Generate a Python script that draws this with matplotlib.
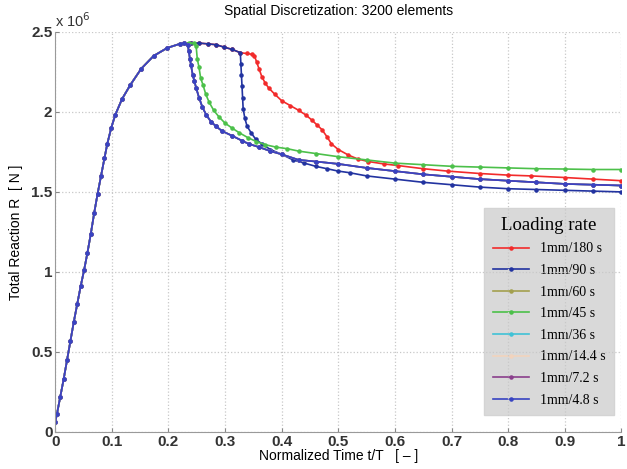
#Total reaction vs normalized time for several loading rates

import numpy as np
import matplotlib.pyplot as plt

#Shared loading branch (all rates)
rise_t = [0, 0.003, 0.009, 0.015, 0.021, 0.027, 0.033, 0.039, 0.045, 0.051, 0.057, 0.063,
          0.069, 0.075, 0.081, 0.087, 0.092, 0.099, 0.106, 0.118, 0.133, 0.152, 0.174, 0.198, 0.22]
rise_R = [0.06, 0.11, 0.22, 0.33, 0.45, 0.57, 0.69, 0.80, 0.91, 1.01, 1.12, 1.24,
          1.37, 1.49, 1.60, 1.71, 1.80, 1.90, 1.98, 2.08, 2.17, 2.27, 2.35, 2.40, 2.425]

#Fast rates (60, 36, 14.4, 7.2, 4.8 s) - early softening
fast_t = [0.228, 0.234, 0.236, 0.238, 0.240, 0.243, 0.246, 0.249, 0.254, 0.26, 0.267, 0.275,
          0.284, 0.295, 0.313, 0.33, 0.342, 0.36, 0.38, 0.40, 0.43, 0.46, 0.5, 0.55, 0.6,
          0.65, 0.7, 0.75, 0.8, 0.85, 0.9, 0.95, 1.0]
fast_R = [2.43, 2.42, 2.38, 2.33, 2.29, 2.23, 2.19, 2.15, 2.09, 2.03, 1.98, 1.94,
          1.91, 1.88, 1.85, 1.82, 1.80, 1.78, 1.755, 1.735, 1.70, 1.69, 1.675, 1.65, 1.63,
          1.61, 1.595, 1.58, 1.57, 1.56, 1.55, 1.545, 1.54]

#1mm/45 s
r45_t = [0.228, 0.236, 0.245, 0.249, 0.251, 0.254, 0.257, 0.261, 0.266, 0.272, 0.28, 0.289,
         0.30, 0.312, 0.325, 0.34, 0.355, 0.371, 0.39, 0.41, 0.43, 0.46, 0.5, 0.55, 0.6,
         0.65, 0.7, 0.75, 0.8, 0.85, 0.9, 0.95, 1.0]
r45_R = [2.43, 2.43, 2.43, 2.41, 2.33, 2.28, 2.21, 2.17, 2.11, 2.06, 2.01, 1.97,
         1.93, 1.90, 1.87, 1.84, 1.815, 1.795, 1.78, 1.77, 1.755, 1.74, 1.72, 1.70, 1.68,
         1.67, 1.66, 1.655, 1.65, 1.645, 1.643, 1.64, 1.64]

#1mm/90 s
r90_t = [0.228, 0.24, 0.254, 0.27, 0.284, 0.298, 0.313, 0.327, 0.328, 0.329, 0.330, 0.331,
         0.332, 0.335, 0.339, 0.346, 0.354, 0.365, 0.38, 0.40, 0.42, 0.44, 0.46, 0.48, 0.5,
         0.52, 0.55, 0.6, 0.65, 0.7, 0.75, 0.8, 0.85, 0.9, 0.95, 1.0]
r90_R = [2.43, 2.43, 2.43, 2.425, 2.42, 2.405, 2.39, 2.37, 2.30, 2.23, 2.16, 2.09,
         2.02, 1.96, 1.91, 1.87, 1.83, 1.80, 1.765, 1.735, 1.70, 1.68, 1.66, 1.645, 1.63,
         1.62, 1.60, 1.58, 1.56, 1.545, 1.53, 1.52, 1.515, 1.51, 1.505, 1.50]

#1mm/180 s
r180_t = [0.228, 0.24, 0.254, 0.27, 0.284, 0.298, 0.313, 0.327, 0.338, 0.348, 0.352, 0.356,
          0.36, 0.365, 0.371, 0.377, 0.388, 0.40, 0.415, 0.43, 0.443, 0.453, 0.462, 0.471,
          0.48, 0.488, 0.5, 0.518, 0.535, 0.553, 0.58, 0.605, 0.65, 0.693, 0.75, 0.8, 0.84,
          0.9, 0.95, 1.0]
r180_R = [2.43, 2.43, 2.43, 2.425, 2.42, 2.405, 2.39, 2.37, 2.365, 2.36, 2.35, 2.31,
          2.27, 2.22, 2.18, 2.15, 2.11, 2.07, 2.04, 2.01, 1.98, 1.95, 1.92, 1.89,
          1.845, 1.80, 1.765, 1.73, 1.705, 1.69, 1.675, 1.665, 1.645, 1.63, 1.615, 1.605, 1.60,
          1.59, 1.58, 1.57]

labels = ['1mm/180 s', '1mm/90 s', '1mm/60 s', '1mm/45 s', '1mm/36 s',
          '1mm/14.4 s', '1mm/7.2 s', '1mm/4.8 s']
colors = ['#f22b2b', '#2233a0', '#a3a04e', '#4cc04a', '#40c2d6',
          '#f2d3bd', '#8a3f8c', '#3844c2']
tails = [(r180_t, r180_R), (r90_t, r90_R), (fast_t, fast_R), (r45_t, r45_R),
         (fast_t, fast_R), (fast_t, fast_R), (fast_t, fast_R), (fast_t, fast_R)]

plt.rcParams['font.family'] = ['Liberation Sans', 'DejaVu Sans']

fig = plt.figure(figsize=(6.27, 4.69), dpi=100)
ax = fig.add_axes([0.088, 0.079, 0.903, 0.853])

for lab, col, (tt, rr) in zip(labels, colors, tails):
    t = np.concatenate([rise_t, tt])
    r = np.concatenate([rise_R, rr])
    ax.plot(t, r, '.-', color=col, lw=1.2, ms=4.5, label=lab)

ax.set_xlim(0, 1)
ax.set_ylim(0, 2.5)
ax.set_xticks(np.arange(0, 1.01, 0.1))
ax.set_xticklabels(['0', '0.1', '0.2', '0.3', '0.4', '0.5', '0.6', '0.7', '0.8', '0.9', '1'])
ax.set_yticks([0, 0.5, 1, 1.5, 2, 2.5])
ax.set_yticklabels(['0', '0.5', '1', '1.5', '2', '2.5'])
ax.tick_params(direction='in', length=3, color='#888888', labelsize=11, pad=2)
for lab in ax.get_xticklabels() + ax.get_yticklabels():
    lab.set_fontweight('bold')
    lab.set_color('#333333')

ax.grid(True, linestyle=':', color='#c8c8c8', lw=0.9)
ax.spines['top'].set_visible(False)
ax.spines['right'].set_visible(False)
ax.spines['left'].set_color('#9a9a9a')
ax.spines['bottom'].set_color('#9a9a9a')

ax.text(0.0, 1.005, 'x 10$^6$', transform=ax.transAxes, fontsize=10.5, color='#333333',
        ha='left', va='bottom')
ax.set_title('Spatial Discretization: 3200 elements', fontsize=10, pad=12)
ax.set_xlabel('Normalized Time t/T   [ \u2013 ]', fontsize=10, labelpad=0)
ax.set_ylabel('Total Reaction R  [ N ]', fontsize=10, labelpad=6)

leg = ax.legend(loc='lower right', bbox_to_anchor=(0.999, 0.025), title='Loading rate',
                prop={'family': 'Liberation Serif', 'size': 10}, numpoints=1,
                handlelength=2.6, labelspacing=0.62, borderpad=0.6, fancybox=False,
                facecolor='#d9d9d9', edgecolor='#d4d4d4', framealpha=1)
leg.get_title().set_fontfamily('Liberation Serif')
leg.get_title().set_fontsize(13.5)
leg.set_zorder(1)

fig.savefig('out.png', dpi=100)
